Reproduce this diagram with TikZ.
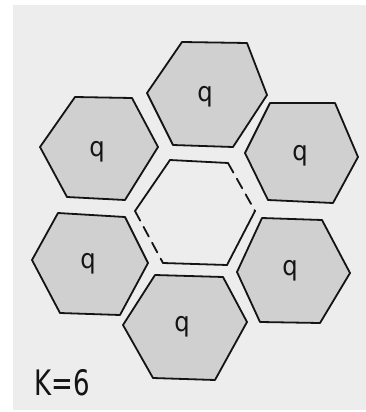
\documentclass[tikz,border=0pt]{standalone}
\usepackage{fontspec}
\setmainfont{DejaVu Sans}
\definecolor{bgray}{RGB}{237,237,237}
\definecolor{hexfill}{RGB}{208,208,208}
\definecolor{ink}{RGB}{20,20,20}
\tikzset{
  cell/.style={draw=ink, fill=hexfill, line width=1.8pt, line join=round},
  rim/.style={draw=ink, line width=1.8pt, line cap=round},
  dashrim/.style={rim, dash pattern=on 11pt off 7pt},
  qlabel/.style={font=\fontsize{27}{27}\selectfont, text=ink, inner sep=0pt, xscale=0.9},
}
\begin{document}
\begin{tikzpicture}[x=1pt,y=-1pt]
\useasboundingbox (0,0) rectangle (366,412);
\fill[white] (0,0) rectangle (366,412);
\fill[bgray] (13,5) rectangle (366,410);
% outer cells
\draw[cell] (182,42) -- (247,43) -- (267,95) -- (233,147) -- (173,145) -- (147,93) -- cycle;
\draw[cell] (75,97) -- (132,98) -- (158,147) -- (125,200) -- (67,197) -- (40,147) -- cycle;
\draw[cell] (270,103) -- (335,103) -- (358,157) -- (333,203) -- (268,200) -- (245,153) -- cycle;
\draw[cell] (58,213) -- (125,217) -- (148,263) -- (120,315) -- (60,313) -- (32,260) -- cycle;
\draw[cell] (262,218) -- (322,220) -- (350,273) -- (320,323) -- (260,322) -- (237,272) -- cycle;
\draw[cell] (155,275) -- (223,277) -- (247,322) -- (215,380) -- (153,378) -- (123,325) -- cycle;
% central empty cell
\coordinate (c1) at (170,160);
\coordinate (c2) at (228,163);
\coordinate (c3) at (255,211);
\coordinate (c4) at (227,265);
\coordinate (c5) at (163,263);
\coordinate (c6) at (135,211);
\draw[rim] (c6) -- (c1) -- (c2);
\draw[dashrim] (c2) -- (c3);
\draw[rim] (c3) -- (c4) -- (c5);
\draw[dashrim] (c6) -- (c5);
% labels
\node[qlabel] (q1) at (205,97) {q};
\node[qlabel] (q2) at (97,152) {q};
\node[qlabel] (q3) at (300,156) {q};
\node[qlabel] (q4) at (88,264) {q};
\node[qlabel] (q5) at (290,271) {q};
\node[qlabel] (q6) at (182,327) {q};
\node[font=\fontsize{26}{26}\selectfont, text=ink, inner sep=0pt, anchor=base west, yscale=1.35] (k) at (34,395) {K=6};
\end{tikzpicture}
\end{document}
